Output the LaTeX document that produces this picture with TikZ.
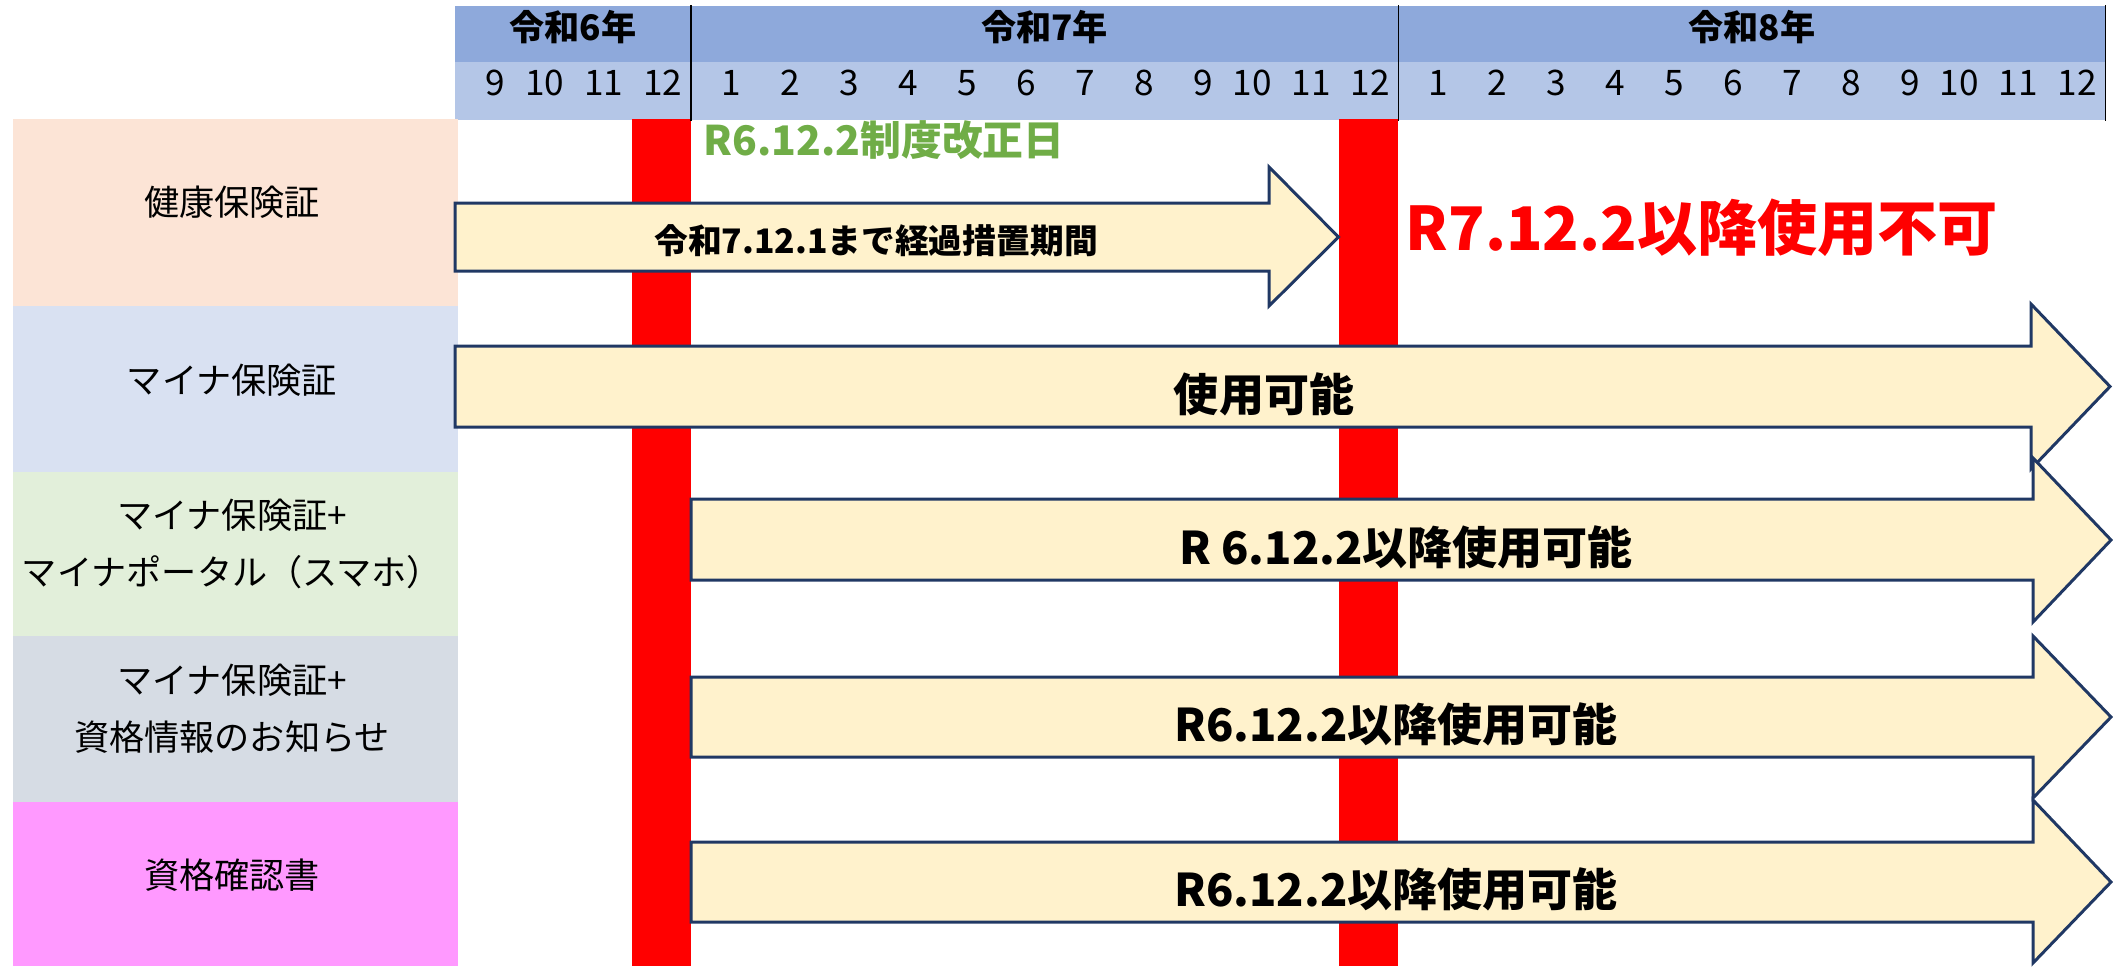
\documentclass[tikz,border=0pt]{standalone}
\usepackage{fontspec}
\newfontfamily\jp{Noto Sans CJK JP}
\definecolor{hdark}{HTML}{8EA9DB}
\definecolor{hlight}{HTML}{B4C6E7}
\definecolor{cpeach}{HTML}{FCE4D6}
\definecolor{cblue}{HTML}{D9E1F2}
\definecolor{cgreen}{HTML}{E2EFDA}
\definecolor{cgray}{HTML}{D6DCE4}
\definecolor{cpink}{HTML}{FF99FF}
\definecolor{barred}{HTML}{FF0000}
\definecolor{arrfill}{HTML}{FFF2CC}
\definecolor{arrline}{HTML}{203864}
\definecolor{gtext}{HTML}{70AD47}
\tikzset{
  yearlbl/.style={font=\jp\bfseries\fontsize{10}{12}\selectfont, inner sep=0pt},
  monthlbl/.style={font=\jp\fontsize{10}{12}\selectfont, inner sep=0pt, anchor=east},
  rowlbl/.style={font=\jp\fontsize{10}{16.2}\selectfont, align=center, inner sep=0pt},
  arrowbody/.style={draw=arrline, fill=arrfill, line width=0.85pt, line join=miter},
  arrtxt/.style={font=\jp\bfseries\fontsize{12.8}{15}\selectfont, inner sep=0pt},
  arrtxtsmall/.style={font=\jp\bfseries\fontsize{9.6}{12}\selectfont, inner sep=0pt},
  divline/.style={draw=black, line width=0.45pt},
  redbar/.style={fill=barred},
}
\begin{document}
\begin{tikzpicture}[x=0.01cm,y=-0.01cm]
\useasboundingbox (0,0) rectangle (2113,966);
% header
\fill[hdark] (455,6) rectangle (2106,62);
\fill[hlight] (455,62) rectangle (2106,120);
\node[yearlbl] (y6) at (573,27) {令和6年};
\node[yearlbl] (y7) at (1044.5,27) {令和7年};
\node[yearlbl] (y8) at (1752,27) {令和8年};
\foreach \m [count=\i from 0] in {9,10,11,12,1,2,3,4,5,6,7,8,9,10,11,12,1,2,3,4,5,6,7,8,9,10,11,12}
  \node[monthlbl] (m\i) at ({455+(\i+1)*58.95-8},83) {\m};
% left column
\fill[cpeach] (13,119) rectangle (458,306);
\fill[cblue] (13,306) rectangle (458,472);
\fill[cgreen] (13,472) rectangle (458,636);
\fill[cgray] (13,636) rectangle (458,802);
\fill[cpink] (13,802) rectangle (458,966);
\node[rowlbl] (l1) at (232,202) {健康保険証};
\node[rowlbl] (l2) at (232,380) {マイナ保険証};
\node[rowlbl] (l3) at (232,543.5) {マイナ保険証+\\マイナポータル（スマホ）};
\node[rowlbl] (l4) at (232,709) {マイナ保険証+\\資格情報のお知らせ};
\node[rowlbl] (l5) at (232,875) {資格確認書};
% red bars
\fill[redbar] (631.9,119) rectangle (690.8,966);
\fill[redbar] (1339,119) rectangle (1398.2,966);
% dividers
\coordinate (d1t) at (690.8,5); \coordinate (d1b) at (690.8,121);
\coordinate (d2t) at (1398.6,5); \coordinate (d2b) at (1398.6,121);
\coordinate (d3t) at (2105.5,5); \coordinate (d3b) at (2105.5,121);
\draw[divline] (d1t) -- (d1b);
\draw[divline] (d2t) -- (d2b);
\draw[divline] (d3t) -- (d3b);
% green label
\node[font=\jp\bfseries\fontsize{11.6}{13}\selectfont, text=gtext, inner sep=0pt] (g) at (884,140) {R6.12.2制度改正日};
% arrows
\draw[arrowbody] (455,203) -- (1269,203) -- (1269,167) -- (1338.5,237) -- (1269,306) -- (1269,271) -- (455,271) -- cycle;
\draw[arrowbody] (455,346) -- (2031,346) -- (2031,304) -- (2110,386.5) -- (2031,469) -- (2031,427) -- (455,427) -- cycle;
\draw[arrowbody] (691,499) -- (2033,499) -- (2033,458) -- (2111,540) -- (2033,622) -- (2033,580) -- (691,580) -- cycle;
\draw[arrowbody] (691,677) -- (2033,677) -- (2033,636) -- (2111,717) -- (2033,798) -- (2033,757) -- (691,757) -- cycle;
\draw[arrowbody] (691,842) -- (2033,842) -- (2033,800) -- (2111,882) -- (2033,963) -- (2033,922) -- (691,922) -- cycle;
\node[arrtxtsmall] (t1) at (876,241) {令和7.12.1まで経過措置期間};
\node[arrtxt] (t2) at (1264,394) {使用可能};
\node[arrtxt] (t3) at (1406,547) {R 6.12.2以降使用可能};
\node[arrtxt] (t4) at (1396,724) {R6.12.2以降使用可能};
\node[arrtxt] (t5) at (1396,889) {R6.12.2以降使用可能};
% red text
\node[font=\jp\bfseries\fontsize{17.1}{20}\selectfont, text=barred, inner sep=0pt] (rt) at (1702,228) {R7.12.2以降使用不可};
\end{tikzpicture}
\end{document}
